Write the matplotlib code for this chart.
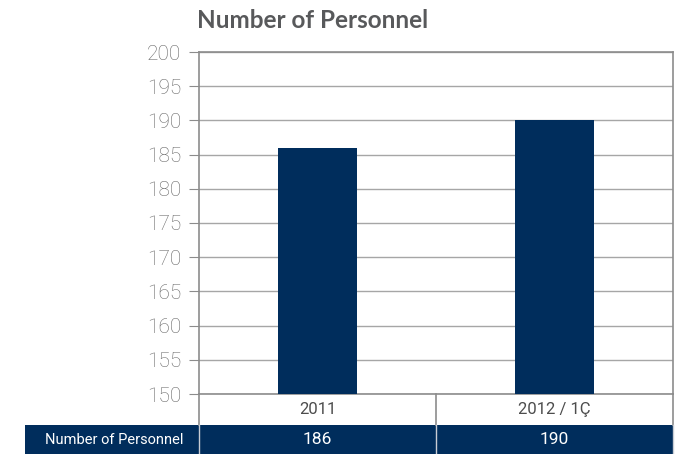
import matplotlib.pyplot as plt
from matplotlib.patches import Rectangle
from matplotlib.transforms import blended_transform_factory

categories = ['2011', '2012 / 1Ç']
personnel = [186, 190]
row_label = 'Number of Personnel'
yticks = [150, 155, 160, 165, 170, 175, 180, 185, 190, 195, 200]

navy = '#002d5c'
grey_line = '#8c8c8c'

fig = plt.figure(figsize=(6.96, 4.54), dpi=100)
ax = fig.add_axes([199 / 696, 1 - 394 / 454, 474 / 696, 342 / 454])

x = list(range(len(categories)))
ax.bar(x, personnel, width=0.33, color=navy, zorder=3)
ax.set_xlim(-0.5, len(categories) - 0.5)
ax.set_ylim(150, 200)
ax.set_yticks(yticks)
ax.set_xticks([])
ax.yaxis.grid(True, color='#a6a6a6', linewidth=1.0, zorder=0)
ax.tick_params(axis='y', length=7, color=grey_line, labelsize=15,
               labelcolor='#666666', pad=6)
for lab in ax.get_yticklabels():
    lab.set_fontfamily('Roboto')
    lab.set_fontweight('light')
for s in ax.spines.values():
    s.set_color(grey_line)
    s.set_linewidth(1.2)

fig.text(197 / 696, 1 - 20 / 454, 'Number of Personnel', fontsize=17.5,
         fontweight='bold', color='#58595b', family='Lato', va='center',
         ha='left')

# data table under the plot
px = 1 / 342  # one pixel in axes-height units
row_h = 31 * px
trans = blended_transform_factory(ax.transData, ax.transAxes)
dark = Rectangle((25 / 696, 0), 648 / 696, 29 / 454, transform=fig.transFigure,
                 facecolor=navy, edgecolor='none', zorder=1, clip_on=False)
ax.add_patch(dark)

for xi, cat, val in zip(x, categories, personnel):
    ax.text(xi, -row_h / 2, cat, transform=trans, ha='center', va='center',
            fontsize=12, color='#4d4d4d', family='Roboto')
    ax.text(xi, -(row_h + 15 * px), str(val), transform=trans, ha='center',
            va='center', fontsize=12.5, color='white', family='Roboto',
            zorder=5)

fig.text(114 / 696, 1 - 440 / 454, row_label, ha='center', va='center',
         fontsize=10.5, color='white', family='Roboto', zorder=5)

# column separators: grey in the label row, pale in the value row
for xs in [-0.5, 0.5, 1.5]:
    ax.plot([xs, xs], [0, -row_h], transform=trans, color=grey_line,
            linewidth=1.2, clip_on=False, zorder=2)
    ax.plot([xs, xs], [-row_h, -1], transform=trans, color='#c8ccd4',
            linewidth=1.0, clip_on=False, zorder=2)

fig.savefig('out.png', dpi=100)
